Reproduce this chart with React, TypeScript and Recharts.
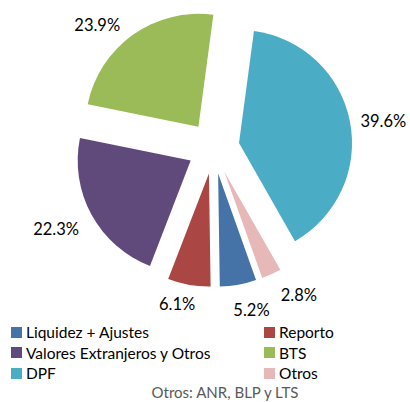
import { PieChart, Pie, Cell, Sector, Legend } from "recharts";

const categories = [
  "Liquidez + Ajustes",
  "Reporto",
  "Valores Extranjeros y Otros",
  "BTS",
  "DPF",
  "Otros",
];
const shares = [5.2, 6.1, 22.3, 23.9, 39.6, 2.8];
const colors = ["#4572A7", "#AA4643", "#604A7B", "#9BBB59", "#4BACC6", "#E6B9B8"];
const footnote = "Otros: ANR, BLP y LTS";

const data = categories.map((name, i) => ({ name, value: shares[i] }));

const RADIAN = Math.PI / 180;
const EXPLODE = 26;
// per-slice label nudge: [angle shift (deg, clockwise), radius from centre]
const labelNudge: Record<string, [number, number]> = {
  "Liquidez + Ajustes": [-3, 166],
  Reporto: [3, 160],
  "Valores Extranjeros y Otros": [1.5, 177],
  BTS: [-8, 169],
  DPF: [2, 172],
  Otros: [-5.5, 170],
};

const labelFont = "Lato, 'Open Sans', sans-serif";

function ExplodedSlice(props: any) {
  const { cx, cy, innerRadius, outerRadius, startAngle, endAngle, midAngle, fill } = props;
  const dx = Math.cos(-midAngle * RADIAN) * EXPLODE;
  const dy = Math.sin(-midAngle * RADIAN) * EXPLODE;
  return (
    <Sector
      cx={cx + dx}
      cy={cy + dy}
      innerRadius={innerRadius}
      outerRadius={outerRadius}
      startAngle={startAngle}
      endAngle={endAngle}
      fill={fill}
    />
  );
}

function renderLabel(props: any) {
  const { cx, cy, midAngle, name, value } = props;
  const [shift, r] = labelNudge[name] || [0, 170];
  const a = midAngle - shift;
  const x = cx + r * Math.cos(-a * RADIAN);
  const y = cy + r * Math.sin(-a * RADIAN);
  return (
    <text
      x={x}
      y={y}
      textAnchor="middle"
      dominantBaseline="central"
      fill="#000"
      fontSize={16.5}
      fontFamily={labelFont}
    >
      {value.toFixed(1)}%
    </text>
  );
}

// legend keeps the series order (Recharts would sort it by name)
function LegendGrid() {
  return (
    <div style={{ position: "relative", width: 410, height: 60 }}>
      {categories.map((name, i) => {
        const col = i % 2;
        const row = Math.floor(i / 2);
        return (
          <div
            key={name}
            style={{
              position: "absolute",
              left: col === 0 ? 11 : 264,
              top: row * 20.5,
              display: "flex",
              alignItems: "center",
              height: 20,
              fontFamily: labelFont,
              fontSize: 15.5,
              color: "#000",
              whiteSpace: "nowrap",
            }}
          >
            <span
              style={{
                display: "inline-block",
                width: 11,
                height: 11,
                background: colors[i],
                marginRight: 4,
              }}
            />
            {name}
          </div>
        );
      })}
    </div>
  );
}

export default function App() {
  return (
    <div
      style={{
        position: "absolute",
        left: 0,
        top: 0,
        width: 410,
        height: 402,
        background: "#fff",
      }}
    >
      <PieChart width={410} height={402} margin={{ top: 0, right: 0, bottom: 0, left: 0 }}>
        <Pie
          data={data}
          dataKey="value"
          nameKey="name"
          cx={213.5}
          cy={148}
          outerRadius={113}
          startAngle={-70.4}
          endAngle={-430.4}
          stroke="none"
          shape={ExplodedSlice}
          label={renderLabel}
          labelLine={false}
          isAnimationActive={false}
        >
          {data.map((d, i) => (
            <Cell key={d.name} fill={colors[i]} />
          ))}
        </Pie>
        <Legend
          content={<LegendGrid />}
          wrapperStyle={{ position: "absolute", left: 0, top: 322, width: 410 }}
        />
      </PieChart>
      <div
        style={{
          position: "absolute",
          left: 0,
          width: 410,
          top: 383,
          paddingLeft: 40,
          boxSizing: "border-box",
          textAlign: "center",
          fontFamily: labelFont,
          fontSize: 15,
          lineHeight: "18px",
          color: "#595959",
        }}
      >
        {footnote}
      </div>
    </div>
  );
}
